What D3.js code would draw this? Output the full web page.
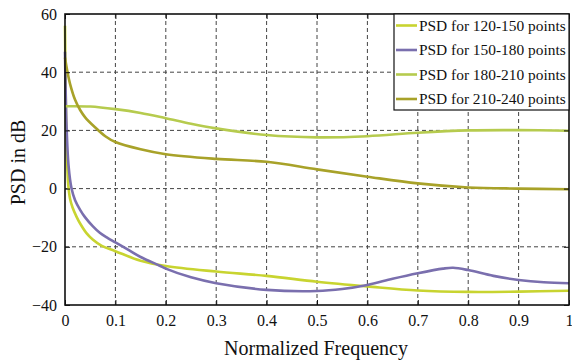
<!DOCTYPE html>
<html>
<head>
<meta charset="utf-8">
<script src="https://cdn.jsdelivr.net/npm/d3@7"></script>
<style>
  body { margin: 0; background: #fff; }
  svg { display: block; }
  svg text { font-family: "Liberation Serif", "Times New Roman", serif; }
</style>
</head>
<body>
<svg id="chart" width="572" height="361"></svg>
<script>
// values
const seriesNames = ["PSD for 120-150 points", "PSD for 150-180 points", "PSD for 180-210 points", "PSD for 210-240 points"];
const seriesColors = ["#c8d430", "#7a6fae", "#b6cb4e", "#a8a229"];

const freq120 = [0, 0.002, 0.004, 0.0066, 0.01, 0.015, 0.023, 0.03, 0.043, 0.055, 0.073, 0.1, 0.15, 0.2, 0.3, 0.4, 0.5, 0.6, 0.7, 0.8, 0.9, 1.0];
const psd120  = [56, 25, 10, 1, -3.5, -6.5, -9.7, -12, -15.4, -17.5, -19.7, -21.5, -24.8, -26.6, -28.5, -30, -32, -33.6, -35, -35.5, -35.4, -35.1];

const freq150 = [0, 0.003, 0.007, 0.013, 0.02, 0.03, 0.04, 0.055, 0.069, 0.085, 0.1, 0.125, 0.15, 0.188, 0.2, 0.25, 0.3, 0.4, 0.5, 0.55, 0.6, 0.65, 0.7, 0.75, 0.77, 0.8, 0.85, 0.9, 0.95, 1.0];
const psd150  = [47, 22, 8, 0, -4, -7.3, -9.9, -12.9, -15.2, -17, -18.5, -21, -23.5, -26.5, -27.5, -30.5, -32.5, -34.8, -35.2, -34.5, -33.1, -31, -29.1, -27.5, -27.2, -28, -30, -31.4, -32.2, -32.5];

const freq180 = [0, 0.05, 0.1, 0.15, 0.2, 0.25, 0.3, 0.4, 0.5, 0.6, 0.7, 0.8, 0.9, 1.0];
const psd180  = [28.3, 28.2, 27.3, 26, 24.2, 22.3, 20.7, 18.4, 17.6, 18, 19.2, 20, 20.1, 19.9];

const freq210 = [0, 0.005, 0.01, 0.02, 0.03, 0.04, 0.06, 0.08, 0.1, 0.15, 0.2, 0.3, 0.4, 0.5, 0.6, 0.7, 0.8, 0.9, 1.0];
const psd210  = [45, 40, 36, 30.5, 27, 24.5, 21, 18, 16, 13.5, 11.8, 10.2, 9.2, 6.6, 4.1, 1.8, 0.4, 0, -0.2];

const xTicks = [0, 0.1, 0.2, 0.3, 0.4, 0.5, 0.6, 0.7, 0.8, 0.9, 1];
const yTicks = [-40, -20, 0, 20, 40, 60];

const series = [
  {name: seriesNames[0], color: seriesColors[0], values: freq120.map((f, i) => [f, psd120[i]])},
  {name: seriesNames[1], color: seriesColors[1], values: freq150.map((f, i) => [f, psd150[i]])},
  {name: seriesNames[2], color: seriesColors[2], values: freq180.map((f, i) => [f, psd180[i]])},
  {name: seriesNames[3], color: seriesColors[3], values: freq210.map((f, i) => [f, psd210[i]])}
];

const margin = {top: 14, right: 3, bottom: 56, left: 65};
const width = 572 - margin.left - margin.right;
const height = 361 - margin.top - margin.bottom;
const serif = "'Liberation Serif', 'Times New Roman', serif";

const svg = d3.select("#chart");
const g = svg.append("g").attr("transform", "translate(" + margin.left + "," + margin.top + ")");

const x = d3.scaleLinear().domain([0, 1]).range([0, width]);
const y = d3.scaleLinear().domain([-40, 60]).range([height, 0]);

// dashed grid
g.append("g").selectAll("line")
  .data(xTicks.slice(1, -1)).enter().append("line")
  .attr("x1", d => x(d)).attr("x2", d => x(d))
  .attr("y1", 0).attr("y2", height)
  .attr("stroke", "#444").attr("stroke-width", 1).attr("stroke-dasharray", "4,3");
g.append("g").selectAll("line")
  .data(yTicks.slice(1, -1)).enter().append("line")
  .attr("x1", 0).attr("x2", width)
  .attr("y1", d => y(d)).attr("y2", d => y(d))
  .attr("stroke", "#444").attr("stroke-width", 1).attr("stroke-dasharray", "4,3");

// curves
const line = d3.line()
  .x(d => x(d[0]))
  .y(d => y(d[1]))
  .curve(d3.curveCatmullRom.alpha(0.5));

g.append("g").selectAll("path")
  .data(series).enter().append("path")
  .attr("d", d => line(d.values))
  .attr("fill", "none")
  .attr("stroke", d => d.color)
  .attr("stroke-width", 2.6)
  .attr("stroke-linejoin", "round");

// axes, ticks pointing inward
g.append("g")
  .attr("transform", "translate(0," + height + ")")
  .call(d3.axisBottom(x).tickValues(xTicks).tickSizeInner(-5).tickSizeOuter(0).tickPadding(10).tickFormat(d3.format("")));
g.append("g")
  .call(d3.axisLeft(y).tickValues(yTicks).tickSizeInner(-5).tickSizeOuter(0).tickPadding(8));
g.append("g")
  .call(d3.axisTop(x).tickValues(xTicks).tickSizeInner(-5).tickSizeOuter(0).tickFormat(""));
g.append("g")
  .attr("transform", "translate(" + width + ",0)")
  .call(d3.axisRight(y).tickValues(yTicks).tickSizeInner(-5).tickSizeOuter(0).tickFormat(""));

g.selectAll(".domain").remove();
g.selectAll(".tick line").attr("stroke", "#111");
g.selectAll(".tick").select(function() { return this.parentNode; })
  .attr("font-family", serif).attr("font-size", 16);
g.selectAll(".tick text")
  .style("font-family", serif)
  .attr("font-size", 16)
  .attr("fill", "#111");

g.append("rect")
  .attr("width", width).attr("height", height)
  .attr("fill", "none").attr("stroke", "#111").attr("stroke-width", 1.6);

// axis labels
svg.append("text")
  .attr("x", margin.left + width / 2 - 1)
  .attr("y", 355)
  .attr("text-anchor", "middle")
  .attr("font-size", 20)
  .attr("fill", "#111")
  .text("Normalized Frequency");
svg.append("text")
  .attr("transform", "translate(25," + (margin.top + height / 2 + 3) + ") rotate(-90)")
  .attr("text-anchor", "middle")
  .attr("font-size", 20)
  .attr("fill", "#111")
  .text("PSD in dB");

// legend
const legend = g.append("g").attr("transform", "translate(" + (394 - margin.left) + ",0)");
legend.append("rect")
  .attr("width", 569 - 394).attr("height", 96)
  .attr("fill", "#fff").attr("stroke", "#111").attr("stroke-width", 1.2);
const item = legend.selectAll(".item")
  .data(series).enter().append("g")
  .attr("class", "item")
  .attr("transform", (d, i) => "translate(0," + (11.5 + i * 24.5) + ")");
item.append("line")
  .attr("x1", 2).attr("x2", 23)
  .attr("stroke", d => d.color).attr("stroke-width", 2.6);
item.append("text")
  .attr("x", 25).attr("y", 5)
  .attr("font-size", 15.4)
  .attr("fill", "#111")
  .text(d => d.name);
</script>
</body>
</html>
